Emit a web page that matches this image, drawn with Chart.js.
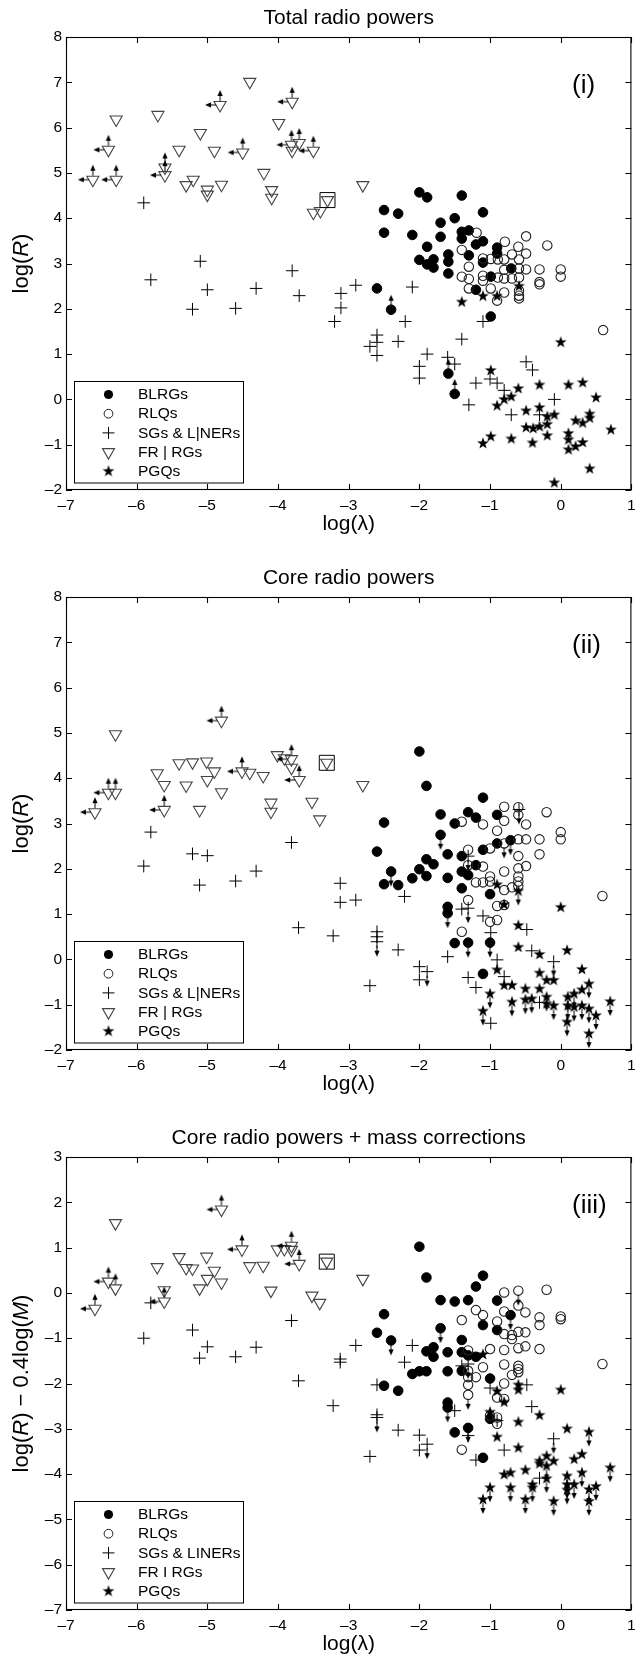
<!DOCTYPE html>
<html><head><meta charset="utf-8">
<script src="https://cdn.jsdelivr.net/npm/chart.js@4.4.0/dist/chart.umd.min.js"></script>
<style>
html,body{margin:0;padding:0;background:#fff;overflow:hidden;width:643px;height:1662px;position:relative;}
canvas{position:absolute;left:0;display:block;}
</style></head><body>
<canvas id="c1" width="643" height="560" style="top:0px"></canvas>
<canvas id="c2" width="643" height="560" style="top:560px"></canvas>
<canvas id="c3" width="643" height="560" style="top:1120px"></canvas>
<script>
// ---------- axes / labels ----------
const xTicks = [-7,-6,-5,-4,-3,-2,-1,0,1];
const yTicksA = [-2,-1,0,1,2,3,4,5,6,7,8];
const yTicksC = [-7,-6,-5,-4,-3,-2,-1,0,1,2,3];
const panelTitles = ['Total radio powers','Core radio powers','Core radio powers + mass corrections'];
const panelLabels = ['(i)','(ii)','(iii)'];
const legendNames12 = ['BLRGs','RLQs','SGs & L|NERs','FR | RGs','PGQs'];
const legendNames3 = ['BLRGs','RLQs','SGs & LINERs','FR I RGs','PGQs'];

// ---------- panel (i): total radio powers ----------
const p1_blrg = [[-2.00,4.57],[-1.89,4.46],[-1.40,4.50],[-2.50,4.18],[-2.30,4.10],[-1.10,4.13],[-1.70,3.90],[-1.50,4.00],[-2.50,3.68],[-2.10,3.63],[-1.70,3.59],[-1.40,3.70],[-1.30,3.73],[-1.40,3.55],[-1.20,3.42],[-1.10,3.49],[-1.89,3.37],[-0.90,3.35],[-2.00,3.08],[-1.89,2.98],[-1.80,3.09],[-1.80,2.91],[-1.59,3.20],[-1.59,3.04],[-1.59,2.78],[-1.30,3.18],[-1.10,3.02],[-0.90,3.22],[-0.70,2.89],[-0.99,2.71],[-1.20,2.42],[-2.60,2.45],[-2.40,1.98],[-0.99,1.83],[-1.59,0.57],[-1.50,0.12]];
const p1_rlq = [[-1.19,3.68],[-0.49,3.60],[-0.19,3.40],[-0.79,3.48],[-0.60,3.37],[-0.49,3.22],[-0.69,3.20],[-1.40,3.30],[-0.99,3.10],[-0.89,3.09],[-0.80,3.09],[-0.59,3.09],[-1.30,2.93],[-1.10,3.11],[-0.80,2.86],[-0.59,2.89],[-0.49,2.87],[-0.30,2.87],[0.00,2.87],[0.00,2.71],[-0.30,2.59],[-0.30,2.54],[-1.40,2.71],[-1.30,2.66],[-1.10,2.73],[-1.10,2.62],[-0.89,2.69],[-0.80,2.67],[-0.69,2.67],[-0.59,2.69],[-1.30,2.45],[-0.99,2.45],[-0.80,2.36],[-0.90,2.18],[-0.59,2.40],[-0.59,2.29],[-0.59,2.23],[0.60,1.53]];
const p1_sg = [[-5.90,4.34],[-5.10,3.05],[-5.80,2.64],[-5.00,2.42],[-5.21,1.99],[-4.60,2.01],[-4.31,2.45],[-3.80,2.84],[-3.70,2.29],[-3.11,2.34],[-3.11,2.02],[-3.20,1.72],[-2.90,2.52],[-2.10,2.48],[-2.20,1.72],[-2.60,1.42],[-2.60,1.26],[-2.70,1.17],[-2.60,0.97],[-2.30,1.28],[-1.89,1.00],[-2.00,0.73],[-2.00,0.47],[-1.60,0.93],[-1.50,0.78],[-1.40,1.33],[-1.10,1.72],[-1.20,0.36],[-1.30,-0.12],[-1.00,0.45],[-0.90,0.36],[-0.80,0.20],[-0.70,-0.34],[-0.49,0.83],[-0.40,0.65],[-0.30,-0.34],[-0.09,0.00]];
const p1_fr = [[-4.40,7.01],[-4.82,6.50],[-3.80,6.57],[-6.29,6.18],[-5.70,6.28],[-3.99,6.10],[-5.10,5.88],[-6.40,5.51],[-5.40,5.51],[-4.90,5.49],[-4.50,5.45],[-3.81,5.62],[-3.70,5.66],[-3.80,5.49],[-3.50,5.49],[-6.62,4.85],[-6.29,4.85],[-5.60,4.95],[-5.60,5.12],[-5.30,4.73],[-5.20,4.85],[-5.00,4.63],[-5.00,4.52],[-4.80,4.74],[-4.20,5.00],[-4.09,4.62],[-4.09,4.45],[-3.50,4.12],[-3.40,4.16],[-3.30,4.40],[-2.80,4.73]];
const p1_pgq = [[-1.40,2.16],[-1.10,2.29],[-0.90,2.29],[-0.59,2.51],[0.00,1.27],[-0.99,0.65],[-0.30,0.33],[0.11,0.33],[0.31,0.38],[-0.60,0.25],[-0.70,0.07],[-0.80,0.01],[-0.90,-0.13],[0.50,0.05],[-0.49,-0.24],[-0.30,-0.17],[-0.19,-0.37],[-0.09,-0.33],[0.21,-0.46],[0.31,-0.51],[0.41,-0.31],[0.41,-0.40],[0.71,-0.66],[-0.49,-0.61],[-0.39,-0.63],[-0.30,-0.59],[-0.19,-0.54],[-0.19,-0.79],[0.11,-0.74],[0.11,-0.88],[0.11,-1.10],[0.21,-1.03],[0.31,-0.94],[-1.10,-0.96],[-0.99,-0.81],[-0.70,-0.86],[-0.40,-0.95],[0.41,-1.52],[-0.09,-1.83]];
const p1_box = [[-3.30,4.40]];
const p1_up = [[-4.82,6.50],[-3.80,6.57],[-6.40,5.51],[-4.50,5.45],[-3.81,5.62],[-3.70,5.66],[-3.50,5.49],[-6.62,4.85],[-6.29,4.85],[-5.60,4.95],[-5.60,5.12],[-2.40,1.98],[-1.59,0.57],[-1.50,0.12]];
const p1_left = [[-4.82,6.50],[-3.80,6.57],[-6.40,5.51],[-4.50,5.45],[-3.81,5.62],[-3.50,5.49],[-6.62,4.85],[-6.29,4.85],[-5.60,4.95]];
const p1_down = [];

// ---------- panel (ii): core radio powers ----------
const p2_blrg = [[-2.00,4.59],[-1.90,3.83],[-1.10,3.57],[-2.50,3.02],[-1.70,3.20],[-1.31,3.25],[-1.20,3.13],[-1.50,3.00],[-0.90,3.19],[-1.70,2.75],[-2.60,2.38],[-2.40,1.94],[-2.50,1.66],[-2.30,1.64],[-2.10,1.79],[-2.00,1.99],[-1.90,2.21],[-1.80,2.10],[-1.90,1.84],[-1.60,2.32],[-1.60,1.80],[-1.40,2.28],[-1.40,1.94],[-1.31,1.86],[-1.40,1.57],[-1.20,2.08],[-1.10,2.42],[-0.90,2.56],[-0.71,2.63],[-1.00,1.44],[-1.60,1.16],[-1.60,1.02],[-1.50,0.36],[-1.31,0.37],[-1.00,0.37],[-1.10,-0.32]];
const p2_rlq = [[-0.80,3.37],[-0.60,3.36],[-0.60,3.19],[-0.20,3.25],[-0.80,3.06],[-0.49,2.98],[-1.40,3.04],[-1.10,2.98],[-0.90,2.84],[0.00,2.81],[0.00,2.65],[-0.30,2.65],[-0.49,2.65],[-0.60,2.65],[-0.80,2.56],[-1.00,2.45],[-1.31,2.42],[-0.60,2.28],[-0.30,2.32],[-0.49,2.06],[-0.60,2.01],[-0.80,1.94],[-1.31,2.08],[-1.10,2.05],[-1.00,1.83],[-0.60,1.83],[-0.60,1.72],[-1.20,1.70],[-1.10,1.70],[-1.00,1.72],[-0.80,1.53],[-0.69,1.59],[-0.60,1.62],[-1.31,1.31],[-0.90,1.18],[-0.80,1.20],[-1.00,0.83],[-0.90,0.87],[-1.40,0.61],[0.59,1.40]];
const p2_sg = [[-5.80,2.81],[-5.90,2.06],[-5.21,2.33],[-5.00,2.29],[-5.11,1.64],[-4.60,1.73],[-4.31,1.95],[-3.81,2.58],[-3.71,0.70],[-3.12,1.68],[-3.12,1.26],[-3.22,0.52],[-2.90,1.31],[-2.21,1.39],[-2.60,0.61],[-2.60,0.50],[-2.60,0.39],[-2.30,0.21],[-2.70,-0.58],[-2.00,-0.16],[-1.89,-0.27],[-2.00,-0.45],[-1.60,0.06],[-1.40,1.11],[-1.31,1.13],[-1.31,2.28],[-1.10,0.96],[-0.99,0.59],[-0.90,-0.01],[-1.31,-0.40],[-1.20,-0.62],[-0.80,-0.38],[-0.99,-1.41],[-0.48,0.66],[-0.41,0.19],[-0.10,-0.05],[-0.30,-0.95],[-0.59,3.31]];
const p2_fr = [[-6.30,4.97],[-4.80,5.27],[-6.59,3.25],[-6.40,3.68],[-6.30,3.68],[-5.61,3.30],[-5.71,4.11],[-5.61,3.85],[-5.40,4.33],[-5.21,4.35],[-5.30,3.84],[-5.01,4.37],[-4.90,4.15],[-5.00,3.96],[-4.80,3.69],[-5.11,3.30],[-4.51,4.15],[-4.40,4.12],[-4.21,4.05],[-4.01,4.51],[-3.91,4.44],[-3.81,4.42],[-3.81,4.23],[-3.70,3.96],[-4.10,3.46],[-4.10,3.26],[-3.52,3.48],[-3.41,3.09],[-3.31,4.34],[-2.80,3.85]];
const p2_pgq = [[-0.90,1.66],[-0.60,1.52],[-0.80,1.22],[0.00,1.16],[-0.60,0.76],[-0.60,0.28],[-0.30,0.12],[0.09,0.21],[-0.90,-0.22],[-0.30,-0.29],[-0.20,-0.45],[-0.10,-0.45],[0.30,-0.21],[-1.00,-0.75],[-0.80,-0.56],[-0.69,-0.56],[-0.50,-0.64],[-0.30,-0.64],[-0.69,-0.93],[-0.50,-0.88],[-0.41,-0.86],[-0.20,-0.82],[-0.20,-0.97],[-0.10,-1.01],[-1.10,-1.13],[0.10,-0.82],[0.10,-1.01],[0.19,-0.75],[0.30,-0.66],[0.40,-0.53],[0.19,-1.04],[0.30,-1.01],[0.40,-1.08],[0.50,-1.23],[0.09,-1.37],[0.40,-1.63],[0.70,-0.92]];
const p2_box = [[-3.31,4.34]];
const p2_up = [[-4.80,5.27],[-6.59,3.25],[-6.40,3.68],[-6.30,3.68],[-5.61,3.30],[-4.51,4.15],[-3.81,4.42],[-3.70,3.96]];
const p2_left = [[-4.80,5.27],[-6.59,3.25],[-6.40,3.68],[-5.61,3.30],[-4.51,4.15],[-3.81,4.42],[-3.70,3.96]];
const p2_down = [[-1.70,2.75],[-2.40,1.94],[-1.60,1.02],[-1.31,0.37],[-1.00,0.37],[-0.71,2.63],[-0.80,2.56],[-2.60,0.39],[-1.89,-0.27],[-1.31,2.28],[-1.31,1.13],[-0.10,-0.05],[-0.59,3.31],[-0.60,1.52],[-1.00,-0.75],[-0.69,-0.93],[-0.50,-0.88],[-0.41,-0.86],[-0.20,-0.82],[-0.10,-1.01],[-1.10,-1.13],[0.10,-0.82],[0.10,-1.01],[0.19,-0.75],[0.40,-0.53],[0.19,-1.04],[0.30,-1.01],[0.40,-1.08],[0.50,-1.23],[0.09,-1.37],[0.40,-1.63],[0.70,-0.92]];

// ---------- panel (iii): core radio powers + mass corrections ----------
const p3_blrg = [[-2.00,1.02],[-1.90,0.34],[-1.10,0.38],[-1.20,0.14],[-1.70,-0.16],[-1.50,-0.19],[-1.31,-0.16],[-0.90,-0.17],[-2.50,-0.47],[-0.71,-0.49],[-1.10,-0.71],[-0.90,-0.82],[-1.70,-0.78],[-2.60,-0.88],[-2.40,-1.05],[-1.40,-1.04],[-1.90,-1.29],[-1.80,-1.20],[-1.80,-1.41],[-1.60,-1.31],[-1.40,-1.31],[-1.31,-1.38],[-1.20,-1.41],[-2.10,-1.79],[-2.00,-1.73],[-1.90,-1.73],[-1.60,-1.73],[-1.40,-1.72],[-1.00,-1.89],[-2.50,-2.05],[-2.30,-2.16],[-1.60,-2.42],[-1.60,-2.53],[-1.00,-2.78],[-1.50,-3.08],[-1.31,-2.98],[-1.10,-3.64]];
const p3_rlq = [[-0.80,0.01],[-0.60,0.05],[-0.20,0.07],[-1.20,-0.38],[-1.10,-0.49],[-1.40,-0.60],[-0.80,-0.41],[-0.60,-0.28],[-0.50,-0.43],[-0.30,-0.54],[-0.30,-0.71],[0.00,-0.52],[0.00,-0.58],[-0.90,-0.63],[-0.80,-0.91],[-0.69,-0.93],[-0.60,-0.86],[-0.50,-0.87],[-0.69,-1.02],[-0.80,-1.26],[-0.60,-1.22],[-0.50,-1.18],[-0.30,-1.24],[-1.00,-1.24],[-1.31,-1.27],[-0.80,-1.58],[-0.60,-1.61],[-0.60,-1.68],[-0.60,-1.75],[-1.10,-1.64],[-1.31,-1.72],[-1.31,-1.86],[-1.20,-1.86],[-0.69,-1.81],[-0.80,-2.00],[-1.31,-2.03],[-1.31,-2.25],[-0.90,-2.31],[-0.80,-2.34],[-1.00,-2.71],[-0.90,-2.75],[-0.90,-2.89],[-1.40,-3.46],[0.59,-1.57]];
const p3_sg = [[-5.80,-0.22],[-5.90,-1.00],[-5.21,-0.82],[-5.00,-1.19],[-5.11,-1.44],[-4.60,-1.41],[-4.31,-1.20],[-3.81,-0.61],[-3.71,-1.94],[-3.12,-1.46],[-3.12,-1.53],[-3.22,-2.49],[-2.90,-1.16],[-2.10,-1.16],[-2.21,-1.53],[-2.60,-2.03],[-2.60,-2.69],[-2.60,-2.75],[-2.30,-3.03],[-2.70,-3.61],[-2.00,-3.14],[-1.89,-3.34],[-2.00,-3.47],[-1.50,-2.60],[-1.40,-1.61],[-1.31,-1.57],[-1.31,-3.15],[-1.20,-3.69],[-1.00,-2.10],[-0.90,-2.82],[-0.80,-3.47],[-0.48,-2.03],[-0.41,-2.51],[-0.10,-3.22],[-0.30,-4.09]];
const p3_fr = [[-6.30,1.54],[-4.80,1.84],[-6.59,-0.35],[-6.40,0.25],[-6.30,0.10],[-5.61,0.06],[-5.61,-0.19],[-5.71,0.57],[-5.40,0.79],[-5.30,0.55],[-5.21,0.54],[-5.01,0.80],[-4.90,0.49],[-5.00,0.31],[-5.11,0.10],[-4.80,0.23],[-4.51,0.96],[-4.40,0.59],[-4.21,0.60],[-4.10,0.05],[-4.01,0.96],[-3.91,0.97],[-3.81,1.04],[-3.81,0.95],[-3.70,0.64],[-3.52,-0.06],[-3.41,-0.22],[-3.31,0.69],[-2.80,0.31]];
const p3_pgq = [[-1.10,-1.35],[-0.60,-2.02],[-0.60,-2.13],[-0.90,-2.16],[-0.80,-2.40],[0.00,-2.13],[-0.30,-2.69],[-1.00,-2.62],[-0.60,-2.84],[-0.90,-3.17],[0.09,-2.99],[-0.60,-3.41],[0.40,-3.06],[0.30,-3.55],[0.19,-3.66],[-0.30,-3.70],[-0.20,-3.59],[-0.10,-3.70],[-0.50,-3.90],[-0.71,-3.96],[-0.80,-4.00],[-0.20,-3.81],[-0.30,-3.76],[-0.20,-4.09],[0.30,-3.96],[0.09,-4.03],[0.70,-3.85],[-1.00,-4.29],[-0.71,-4.29],[-0.40,-4.29],[-0.40,-4.22],[0.09,-4.22],[0.09,-4.34],[0.19,-4.22],[0.40,-4.33],[0.50,-4.26],[-1.10,-4.55],[-0.50,-4.55],[-0.10,-4.59],[0.40,-4.59]];
const p3_box = [[-3.31,0.69]];
const p3_up = [[-4.80,1.84],[-6.59,-0.35],[-6.40,0.25],[-6.30,0.10],[-5.61,-0.19],[-4.51,0.96],[-3.81,1.04],[-3.70,0.64]];
const p3_left = [[-4.80,1.84],[-6.59,-0.35],[-6.40,0.25],[-5.61,-0.19],[-4.51,0.96],[-3.81,1.04],[-3.70,0.64]];
const p3_down = [[-0.71,-0.49],[-1.70,-0.78],[-2.40,-1.05],[-1.60,-2.53],[-1.31,-2.98],[-0.60,0.05],[-1.31,-2.25],[-2.60,-2.75],[-1.89,-3.34],[-0.10,-3.22],[-1.31,-1.57],[0.40,-3.06],[-0.20,-3.81],[-0.20,-4.09],[0.30,-3.96],[0.09,-4.03],[0.70,-3.85],[-1.00,-4.29],[-0.71,-4.29],[-0.40,-4.29],[0.09,-4.22],[0.09,-4.34],[0.19,-4.22],[0.40,-4.33],[0.50,-4.26],[-1.10,-4.55],[-0.50,-4.55],[-0.10,-4.59],[0.40,-4.59]];

// ---------- rendering ----------
const FONT = "'Liberation Sans', Arial, Helvetica, sans-serif";
function fmt(v){ return String(v).replace('-', '\u2013'); }
function mk(w,h){ const c=document.createElement('canvas'); c.width=w; c.height=h; return c; }

const starImg = (() => {
  const c = mk(14,14), g = c.getContext('2d');
  g.translate(7,7.5); g.beginPath();
  for (let i=0;i<10;i++){ const r = i%2 ? 2.4 : 6.2; const a = -Math.PI/2 + i*Math.PI/5; g.lineTo(r*Math.cos(a), r*Math.sin(a)); }
  g.closePath(); g.fillStyle='#000'; g.fill();
  return c;
})();
const arrowImg = (() => {
  const c = mk(36,36), g = c.getContext('2d');
  g.strokeStyle='#000'; g.fillStyle='#000'; g.lineWidth=1;
  g.beginPath(); g.moveTo(18,14); g.lineTo(18,8); g.stroke();
  g.beginPath(); g.moveTo(18,3); g.lineTo(15.4,9); g.lineTo(20.6,9); g.closePath(); g.fill();
  return c;
})();

function legendMarker(ctx, k, x, y){
  ctx.save(); ctx.lineWidth=1;
  if (k===0){ ctx.fillStyle='#000'; ctx.beginPath(); ctx.arc(x,y,4.6,0,Math.PI*2); ctx.fill(); }
  else if (k===1){ ctx.strokeStyle='#222'; ctx.beginPath(); ctx.arc(x,y,4.4,0,Math.PI*2); ctx.stroke(); }
  else if (k===2){ ctx.strokeStyle='#000'; ctx.beginPath(); ctx.moveTo(x-6,y); ctx.lineTo(x+6,y); ctx.moveTo(x,y-6); ctx.lineTo(x,y+6); ctx.stroke(); }
  else if (k===3){ ctx.strokeStyle='#444'; ctx.lineWidth=1.1; ctx.beginPath(); ctx.moveTo(x-6,y-3.5); ctx.lineTo(x+6,y-3.5); ctx.lineTo(x,y+7); ctx.closePath(); ctx.stroke(); }
  else { ctx.drawImage(starImg, x-7, y-7.5); }
  ctx.restore();
}

function decor(P){
  return {
    id:'decor',
    afterDraw(chart){
      const ctx = chart.ctx, a = chart.chartArea, xs = chart.scales.x, ys = chart.scales.y;
      ctx.save();
      ctx.strokeStyle='#000'; ctx.lineWidth=1.1;
      ctx.strokeRect(a.left+0.5, a.top+0.5, a.right-a.left-1, a.bottom-a.top-1);
      ctx.beginPath();
      xTicks.forEach(v => { const px = Math.round(xs.getPixelForValue(v))+0.5;
        ctx.moveTo(px,a.bottom); ctx.lineTo(px,a.bottom-6); ctx.moveTo(px,a.top); ctx.lineTo(px,a.top+6); });
      P.yTicks.forEach(v => { const py = Math.round(ys.getPixelForValue(v))+0.5;
        ctx.moveTo(a.left,py); ctx.lineTo(a.left+6,py); ctx.moveTo(a.right,py); ctx.lineTo(a.right-6,py); });
      ctx.stroke();
      const cx = (a.left+a.right)/2;
      ctx.fillStyle='#000'; ctx.textBaseline='alphabetic';
      ctx.font = '21px '+FONT; ctx.textAlign='center';
      ctx.fillText(P.title, cx, a.top-13.5);
      ctx.fillText('log(\u03bb)', cx, a.bottom+39.5);
      ctx.font = '26px '+FONT; ctx.textAlign='left';
      ctx.fillText(P.label, 572, a.top+55.5);
      // y title with italics
      ctx.save(); ctx.translate(22,(a.top+a.bottom)/2); ctx.rotate(-Math.PI/2);
      let tot=0; P.ytitle.forEach(p => { ctx.font=(p[1]?'italic ':'')+'22px '+FONT; p.w=ctx.measureText(p[0]).width; tot+=p.w; });
      let x=-tot/2; ctx.textAlign='left'; ctx.textBaseline='middle';
      P.ytitle.forEach(p => { ctx.font=(p[1]?'italic ':'')+'22px '+FONT; ctx.fillText(p[0],x,0); x+=p.w; });
      ctx.restore();
      // legend
      const bw=169, bh=101.5, bx=a.left+7.5, by=a.bottom-7.5-bh;
      ctx.fillStyle='#fff'; ctx.fillRect(bx,by,bw,bh);
      ctx.strokeStyle='#000'; ctx.lineWidth=1; ctx.strokeRect(Math.round(bx)+0.5,Math.round(by)+0.5,bw,bh);
      ctx.font='15.5px '+FONT; ctx.textAlign='left'; ctx.textBaseline='middle';
      P.legend.forEach((t,i) => { const yy = by+13.5+i*19.2; legendMarker(ctx,i,bx+35,yy); ctx.fillStyle='#000'; ctx.fillText(t,bx+64.5,yy+0.5); });
      ctx.restore();
    }
  };
}

function build(id, P){
  const pts = a => a.map(p => ({x:p[0], y:p[1]}));
  const datasets = [
    {label:'BLRGs', data:pts(P.blrg), pointStyle:'circle', pointRadius:4.8, pointBackgroundColor:'#000', pointBorderColor:'#000', pointBorderWidth:1, order:6},
    {label:'RLQs', data:pts(P.rlq), pointStyle:'circle', pointRadius:4.7, pointBackgroundColor:'rgba(0,0,0,0)', pointBorderColor:'#222', pointBorderWidth:1.1, order:5},
    {label:'SGs', data:pts(P.sg), pointStyle:'cross', pointRadius:6.3, pointBorderColor:'#000', pointBorderWidth:1, order:4},
    {label:'FR', data:pts(P.fr), pointStyle:'triangle', pointRotation:180, pointRadius:7, pointBackgroundColor:'rgba(0,0,0,0)', pointBorderColor:'#444', pointBorderWidth:1.1, order:3},
    {label:'PGQs', data:pts(P.pgq), pointStyle:starImg, pointRadius:5, order:2},
    {label:'box', data:pts(P.box), pointStyle:'rect', pointRadius:10.6, pointBackgroundColor:'rgba(0,0,0,0)', pointBorderColor:'#000', pointBorderWidth:1, order:1},
    {label:'up', data:pts(P.up), pointStyle:arrowImg, pointRadius:5, pointRotation:0, order:0},
    {label:'left', data:pts(P.left), pointStyle:arrowImg, pointRadius:5, pointRotation:-90, order:0},
    {label:'down', data:pts(P.down), pointStyle:arrowImg, pointRadius:5, pointRotation:180, order:0}
  ];
  const tickFont = {family:FONT, size:15.5};
  new Chart(document.getElementById(id), {
    type:'scatter',
    data:{datasets},
    options:{
      responsive:false, animation:false, events:[],
      layout:{padding:{top:37, right:1, left:0, bottom:0}},
      plugins:{legend:{display:false}, tooltip:{enabled:false}, title:{display:false}},
      scales:{
        x:{type:'linear', min:-7, max:1,
           afterBuildTicks: ax => { ax.ticks = xTicks.map(v => ({value:v})); },
           afterFit: ax => { ax.height = 70; ax.paddingLeft = 0; ax.paddingRight = 0; },
           grid:{display:false, drawTicks:false}, border:{display:false},
           ticks:{padding:6, color:'#000', font:tickFont, callback: v => fmt(v), maxRotation:0, autoSkip:false}},
        y:{type:'linear', min:P.yTicks[0], max:P.yTicks[P.yTicks.length-1],
           afterBuildTicks: ax => { ax.ticks = P.yTicks.map(v => ({value:v})); },
           afterFit: ax => { ax.width = 66; ax.paddingTop = 0; ax.paddingBottom = 0; },
           grid:{display:false, drawTicks:false}, border:{display:false},
           ticks:{padding:4, color:'#000', font:tickFont, callback: v => fmt(v), autoSkip:false}}
      }
    },
    plugins:[decor(P)]
  });
}

build('c1', {blrg:p1_blrg, rlq:p1_rlq, sg:p1_sg, fr:p1_fr, pgq:p1_pgq, box:p1_box, up:p1_up, left:p1_left, down:p1_down,
  yTicks:yTicksA, title:panelTitles[0], label:panelLabels[0], legend:legendNames12, ytitle:[['log(',0],['R',1],[')',0]]});
build('c2', {blrg:p2_blrg, rlq:p2_rlq, sg:p2_sg, fr:p2_fr, pgq:p2_pgq, box:p2_box, up:p2_up, left:p2_left, down:p2_down,
  yTicks:yTicksA, title:panelTitles[1], label:panelLabels[1], legend:legendNames12, ytitle:[['log(',0],['R',1],[')',0]]});
build('c3', {blrg:p3_blrg, rlq:p3_rlq, sg:p3_sg, fr:p3_fr, pgq:p3_pgq, box:p3_box, up:p3_up, left:p3_left, down:p3_down,
  yTicks:yTicksC, title:panelTitles[2], label:panelLabels[2], legend:legendNames3, ytitle:[['log(',0],['R',1],[') \u2212 0.4log(',0],['M',1],[')',0]]});
</script>
</body></html>
